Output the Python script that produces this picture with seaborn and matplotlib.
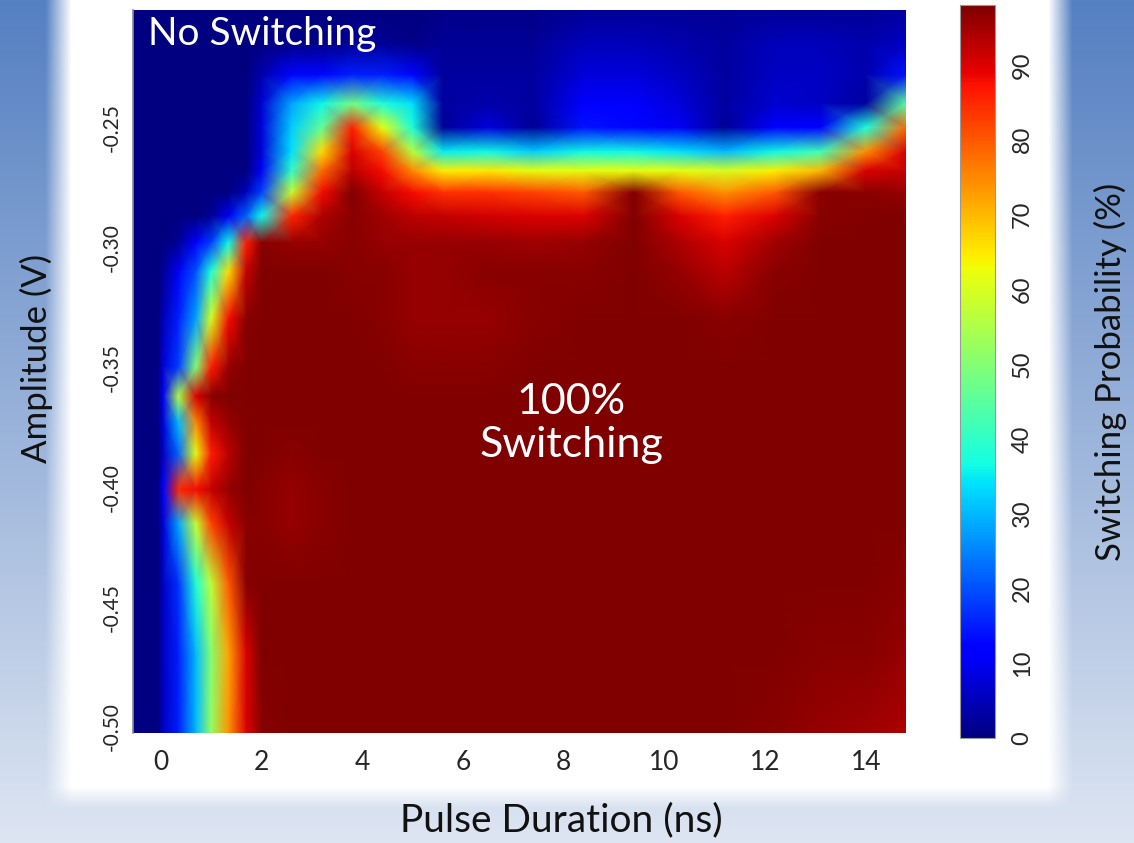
import numpy as np
import matplotlib
matplotlib.use('Agg')
import matplotlib.pyplot as plt
import seaborn as sns

# grid nodes
durations = [-0.55, -0.05, 0.05, 0.35, 0.7, 1.0, 1.35, 1.7, 2.0, 2.6, 3.2, 3.8, 4.4,
             5.0, 5.6, 6.5, 7.4, 8.4, 9.4, 10.3, 11.2, 12.2, 13.1, 14.0, 14.8]
amplitudes = [-0.201, -0.215, -0.228, -0.240, -0.250, -0.260, -0.268, -0.277,
              -0.287, -0.298, -0.310, -0.330, -0.350, -0.362, -0.373, -0.386,
              -0.401, -0.415, -0.440, -0.470, -0.5025]

# switching probability (%), one row per amplitude
prob = [
    [0, 0, 0, 0, 0, 0, 0, 0, 0, 0, 0, 0, 0, 0, 1, 1, 1, 2, 2, 2, 2, 2, 2, 2, 3],
    [0, 0, 0, 0, 0, 0, 0, 0, 0, 1, 1, 2, 2, 1, 2, 2, 2, 5, 5, 4, 3, 5, 5, 4, 6],
    [0, 0, 0, 0, 0, 0, 0, 0, 4, 13, 13, 15, 15, 13, 3, 3, 3, 8, 8, 6, 3, 6, 6, 4, 14],
    [0, 0, 0, 0, 0, 0, 0, 0, 7, 28, 36, 48, 38, 34, 3, 4, 3, 12, 11, 8, 3, 7, 6, 3, 45],
    [0, 0, 0, 0, 0, 0, 0, 0, 8, 32, 46, 86, 62, 38, 2, 8, 2, 14, 13, 10, 2, 12, 12, 38, 78],
    [0, 0, 0, 0, 0, 0, 0, 0, 8, 34, 66, 90, 82, 56, 35, 36, 32, 36, 36, 34, 30, 36, 42, 74, 90],
    [0, 0, 0, 0, 0, 0, 0, 0, 10, 40, 78, 93, 88, 75, 64, 65, 62, 62, 62, 62, 60, 64, 70, 90, 92],
    [0, 0, 0, 0, 0, 0, 0, 5, 18, 58, 88, 98, 92, 88, 84, 84, 82, 80, 98, 80, 74, 80, 97, 97, 96],
    [0, 0, 0, 0, 0, 2, 10, 22, 36, 85, 94, 97, 95, 93, 92, 91, 90, 90, 98, 90, 86, 90, 97, 98, 98],
    [0, 0, 0, 2, 11, 18, 36, 86, 97, 96, 96, 97, 96, 96, 96, 96, 95, 96, 98, 94, 90, 95, 98, 98, 98],
    [0, 0, 2, 10, 20, 38, 66, 92, 98, 98, 98, 97, 97, 96, 96, 97, 97, 97, 98, 96, 93, 97, 98, 98, 98],
    [0, 0, 5, 15, 28, 60, 88, 97, 98, 98, 98, 98, 97, 96, 96, 96, 97, 98, 98, 98, 97, 98, 98, 98, 98],
    [0, 0, 8, 18, 50, 86, 96, 98, 98, 98, 98, 98, 98, 97, 97, 97, 98, 98, 98, 98, 98, 98, 98, 98, 98],
    [0, 0, 10, 55, 90, 97, 98, 98, 98, 98, 98, 98, 98, 98, 98, 98, 98, 98, 98, 98, 98, 98, 98, 98, 98],
    [0, 0, 8, 30, 75, 92, 96, 98, 98, 98, 98, 98, 98, 98, 98, 98, 98, 98, 98, 98, 98, 98, 98, 98, 98],
    [0, 0, 6, 22, 62, 86, 93, 98, 98, 97, 98, 98, 98, 98, 98, 98, 98, 98, 98, 98, 98, 98, 98, 98, 98],
    [0, 0, 12, 85, 88, 92, 96, 98, 97, 96, 97, 98, 98, 98, 98, 98, 98, 98, 98, 98, 98, 98, 98, 98, 98],
    [0, 0, 8, 28, 58, 82, 92, 97, 97, 96, 97, 98, 98, 98, 98, 98, 98, 98, 98, 98, 98, 98, 98, 98, 98],
    [0, 0, 6, 17, 38, 57, 80, 97, 98, 98, 98, 98, 98, 98, 98, 98, 98, 98, 98, 98, 98, 98, 98, 98, 97],
    [0, 0, 6, 15, 30, 50, 72, 90, 98, 98, 98, 98, 98, 98, 98, 98, 98, 98, 98, 98, 98, 98, 97, 97, 96],
    [0, 0, 6, 15, 30, 52, 74, 90, 97, 98, 98, 98, 98, 98, 98, 98, 98, 98, 98, 98, 98, 97, 96, 95, 94],
]

xticks = [0, 2, 4, 6, 8, 10, 12, 14]
yticks = [-0.50, -0.45, -0.40, -0.35, -0.30, -0.25]
cbticks = [0, 10, 20, 30, 40, 50, 60, 70, 80, 90]

sns.set_theme(style='white')
plt.rcParams['font.family'] = ['Lato', 'DejaVu Sans']

W, H = 1134, 843
fig = plt.figure(figsize=(W / 100, H / 100), dpi=100)
fig.patch.set_facecolor('white')

# slide-like background: blue fading edges round a white panel
bgax = fig.add_axes([0, 0, 1, 1], zorder=-10)
yy, xx = np.mgrid[0:H, 0:W]
t = (yy / H)[..., None]
top = np.array([0.33, 0.50, 0.76])
bot = np.array([0.87, 0.90, 0.95])
bg = top * (1 - t) + bot * t
mx = np.clip((xx - 45) / 26.0, 0, 1) * np.clip((1072 - xx) / 24.0, 0, 1)
my = np.clip((808 - yy) / 22.0, 0, 1)
panel = (mx * my)[..., None]
img = panel * 1.0 + (1 - panel) * bg
bgax.imshow(img, aspect='auto', interpolation='bilinear')
bgax.axis('off')

ax = fig.add_axes([133 / W, 1 - 733 / H, 773 / W, 723 / H])
cax = fig.add_axes([960 / W, 1 - 738 / H, 35 / W, 733 / H])

cmap = matplotlib.colormaps['jet']
X, Y = np.meshgrid(durations, amplitudes)
Z = np.array(prob, dtype=float)
mesh = ax.pcolormesh(X, Y, Z, shading='gouraud', cmap=cmap, vmin=0, vmax=98)

ax.set_xlim(durations[0], durations[-1])
ax.set_ylim(amplitudes[-1], amplitudes[0])
ax.set_xticks(xticks)
ax.set_xticklabels([str(v) for v in xticks], fontsize=19)
ax.set_yticks(yticks)
ax.set_yticklabels(['%.2f' % v for v in yticks], fontsize=15, rotation=90, va='center')
ax.tick_params(axis='x', length=0, pad=12)
ax.tick_params(axis='y', length=0, pad=8)
for s in ['top', 'right', 'bottom']:
    ax.spines[s].set_visible(False)
ax.spines['left'].set_color('#8a8a9e')
ax.spines['left'].set_linewidth(1.2)

cb = fig.colorbar(mesh, cax=cax)
cb.set_ticks(cbticks)
cb.ax.set_yticklabels([str(v) for v in cbticks], fontsize=17, rotation=90, va='center')
cb.ax.tick_params(length=0, pad=12)
cb.outline.set_edgecolor('#999999')
cb.outline.set_linewidth(0.8)

ax.text(0.02, 0.992, 'No Switching', transform=ax.transAxes, color='white',
        fontsize=28, ha='left', va='top')
ax.text(8.15, -0.3735, '100%\nSwitching', color='white', fontsize=31,
        ha='center', va='center', linespacing=1.15)

fig.text(561 / W, 1 - 820 / H, 'Pulse Duration (ns)', fontsize=28,
         ha='center', va='center', color='#111111')
fig.text(36 / W, 1 - 358 / H, 'Amplitude (V)', fontsize=25, rotation=90,
         ha='center', va='center', color='#111111')
fig.text(1110 / W, 1 - 372 / H, 'Switching Probability (%)', fontsize=25,
         rotation=90, ha='center', va='center', color='#111111')

fig.savefig('out.png', dpi=100)
